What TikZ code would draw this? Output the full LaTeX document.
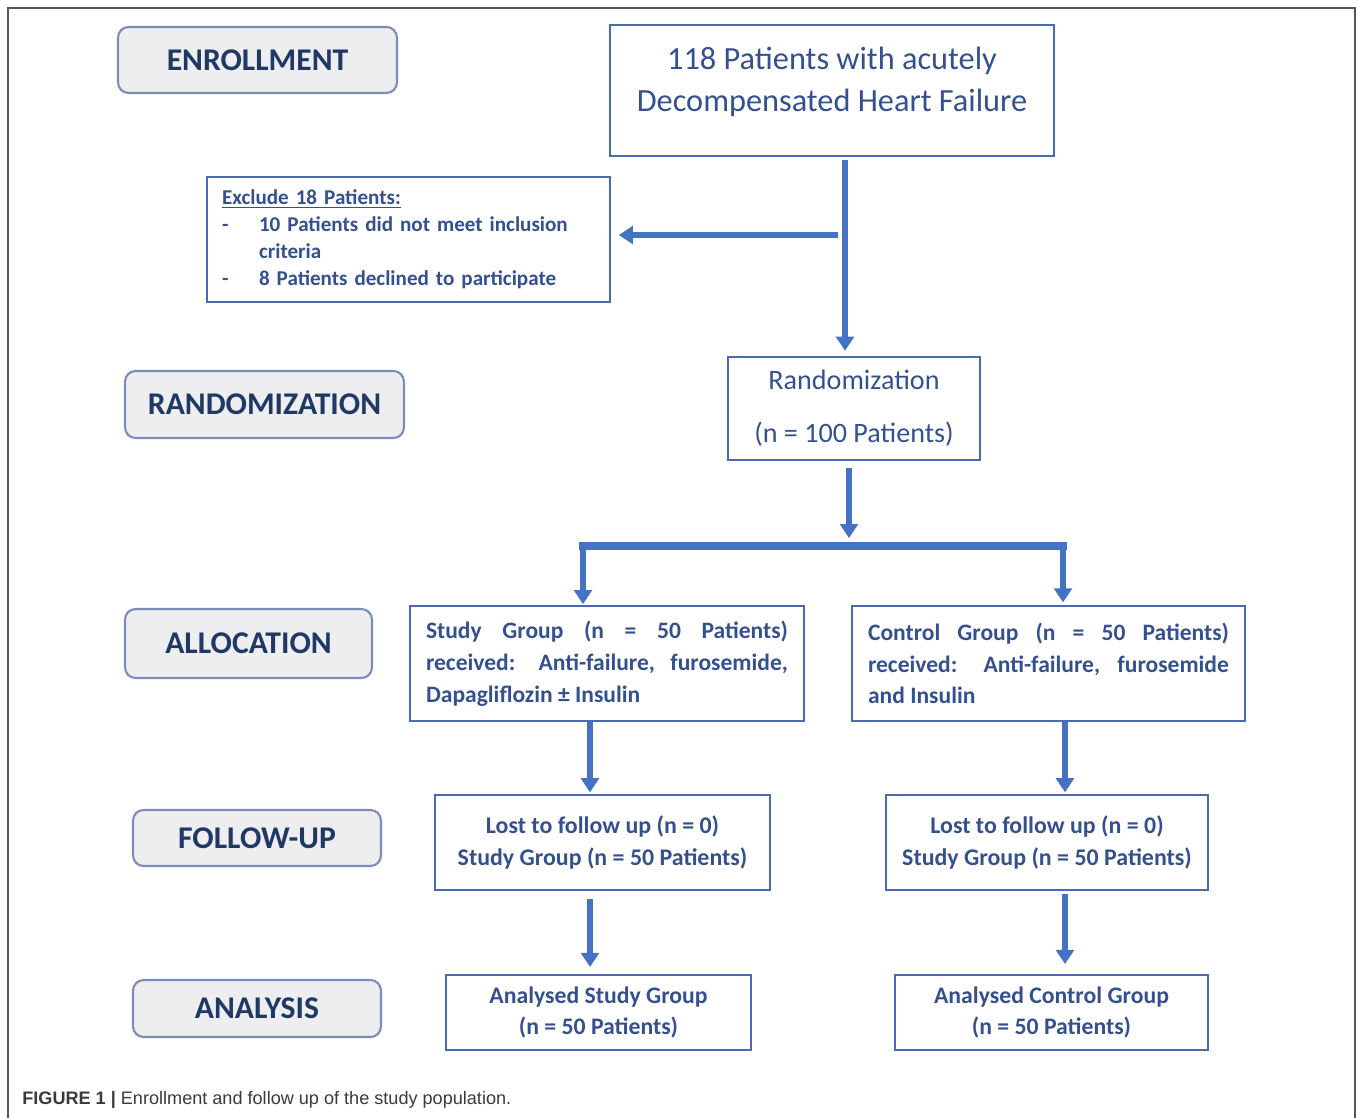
\documentclass[tikz,border=0pt]{standalone}
\usepackage{fontspec}
\setmainfont{Carlito}
\newfontfamily\capfont{Liberation Sans}
\usetikzlibrary{arrows.meta}
\definecolor{arrowblue}{HTML}{4472C4}
\definecolor{boxline}{HTML}{4A6BAF}
\definecolor{boxtext}{HTML}{34508F}
\definecolor{phasetext}{HTML}{1F3864}
\definecolor{phasefill}{HTML}{EEEEF1}
\definecolor{phaseline}{HTML}{7D8DB8}
\definecolor{framegray}{HTML}{555555}
\definecolor{captext}{HTML}{3A3A3A}
\tikzset{
	phasebox/.style={rectangle, rounded corners=6pt, draw=phaseline, line width=1.2pt, fill=phasefill, text=phasetext, font=\fontsize{18}{21}\selectfont\bfseries},
	flowbox/.style={rectangle, draw=boxline, line width=1.1pt, text=boxtext, align=center, inner sep=0pt},
	flowarrow/.style={draw=arrowblue, line width=3.4pt, -{Triangle[width=10pt,length=8pt]}},
}

\begin{document}
\begin{tikzpicture}[x=0.02cm, y=-0.02cm]
	\useasboundingbox (0,0) rectangle (1358,1118);
	\draw[framegray, line width=1.2pt] (8,1118) -- (8,8) -- (1355,8) -- (1355,1118);

	\node (enr) at (257.5,60)[phasebox, minimum width=5.58cm, minimum height=1.32cm]{ENROLLMENT};
	\node (rnd) at (264.5,404.5)[phasebox, minimum width=5.58cm, minimum height=1.34cm]{RANDOMIZATION};
	\node (alc) at (248.5,643.5)[phasebox, minimum width=4.94cm, minimum height=1.38cm]{ALLOCATION};
	\node (fol) at (257,838)[phasebox, minimum width=4.96cm, minimum height=1.12cm]{FOLLOW-UP};
	\node (ana) at (257,1008.5)[phasebox, minimum width=4.96cm, minimum height=1.14cm]{ANALYSIS};

	\node (top) at (832,90.5)[flowbox, minimum width=8.88cm, minimum height=2.62cm, font=\fontsize{18.4}{24.4}\selectfont]{118 Patients with acutely\\Decompensated Heart Failure\\[-19pt]\strut};
	\node (excl) at (408.5,239.5)[flowbox, minimum width=8.06cm, minimum height=2.5cm, text width=7.46cm, align=left, font=\fontsize{12}{15.3}\selectfont\bfseries]{\underline{Exclude 18 Patients:}\par
		\hangindent=0.74cm\makebox[0.74cm][l]{-}10 Patients did not meet inclusion\newline criteria\par
		\hangindent=0.74cm\makebox[0.74cm][l]{-}8 Patients declined to participate};
	\node (rand) at (854,408.5)[flowbox, minimum width=5.04cm, minimum height=2.06cm, font=\fontsize{16}{19}\selectfont]{Randomization\\[11pt](n = 100 Patients)};
	\node (study) at (607,663.5)[flowbox, minimum width=7.88cm, minimum height=2.3cm, text width=7.24cm, align=justify, font=\fontsize{13.4}{18.1}\selectfont\bfseries]{Study Group (n = 50 Patients)\linebreak received: Anti-failure, furosemide,\linebreak Dapagliflozin ± Insulin};
	\node (ctrl) at (1048.5,663.5)[flowbox, minimum width=7.86cm, minimum height=2.3cm, text width=7.22cm, align=justify, font=\fontsize{13.4}{18.1}\selectfont\bfseries]{Control Group (n = 50 Patients)\linebreak received: Anti-failure, furosemide\linebreak and Insulin};
	\node (lostl) at (602.5,842.5)[flowbox, minimum width=6.7cm, minimum height=1.9cm, font=\fontsize{13.6}{18.1}\selectfont\bfseries]{Lost to follow up (n = 0)\\Study Group (n = 50 Patients)};
	\node (lostr) at (1047,842.5)[flowbox, minimum width=6.44cm, minimum height=1.9cm, font=\fontsize{13.6}{18.1}\selectfont\bfseries]{Lost to follow up (n = 0)\\Study Group (n = 50 Patients)};
	\node (anl) at (598.5,1012.5)[flowbox, minimum width=6.1cm, minimum height=1.5cm, font=\fontsize{13.5}{18.1}\selectfont\bfseries]{Analysed Study Group\\(n = 50 Patients)};
	\node (anr) at (1051.5,1012.5)[flowbox, minimum width=6.26cm, minimum height=1.5cm, font=\fontsize{13.5}{18.1}\selectfont\bfseries]{Analysed Control Group\\(n = 50 Patients)};

	\node (cap) at (22,1100)[anchor=west, inner sep=0pt, text=captext, font=\capfont\fontsize{10.3}{12}\selectfont]{\textbf{FIGURE 1 |} Enrollment and follow up of the study population.};

	\coordinate (j1) at (845,235);
	\coordinate (j2) at (849,546);
	\coordinate (bl) at (583,546);
	\coordinate (br) at (1063,546);
	\coordinate (cl) at (590,0);
	\coordinate (cr) at (1065,0);

	\draw[flowarrow, shorten <=2pt, shorten >=3pt] (top.south -| j1) -- (rand.north -| j1);
	\draw[flowarrow, shorten >=4.5pt] ([xshift=-4pt]j1) -- (excl.east |- j1);
	\draw[flowarrow, shorten <=4pt, shorten >=4.5pt] (rand.south -| j2) -- (j2);
	\draw[arrowblue, line width=4.5pt, line cap=rect] (bl) -- (br);
	\draw[flowarrow, shorten >=0.5pt] (bl) -- (study.north -| bl);
	\draw[flowarrow, shorten >=1.5pt] (br) -- (ctrl.north -| br);
	\draw[flowarrow, shorten >=1pt] (study.south -| cl) -- (lostl.north -| cl);
	\draw[flowarrow, shorten >=1pt] (ctrl.south -| cr) -- (lostr.north -| cr);
	\draw[flowarrow, shorten <=4.5pt, shorten >=4pt] (lostl.south -| cl) -- (anl.north -| cl);
	\draw[flowarrow, shorten <=1.7pt, shorten >=5.7pt] (lostr.south -| cr) -- (anr.north -| cr);
\end{tikzpicture}
\end{document}
